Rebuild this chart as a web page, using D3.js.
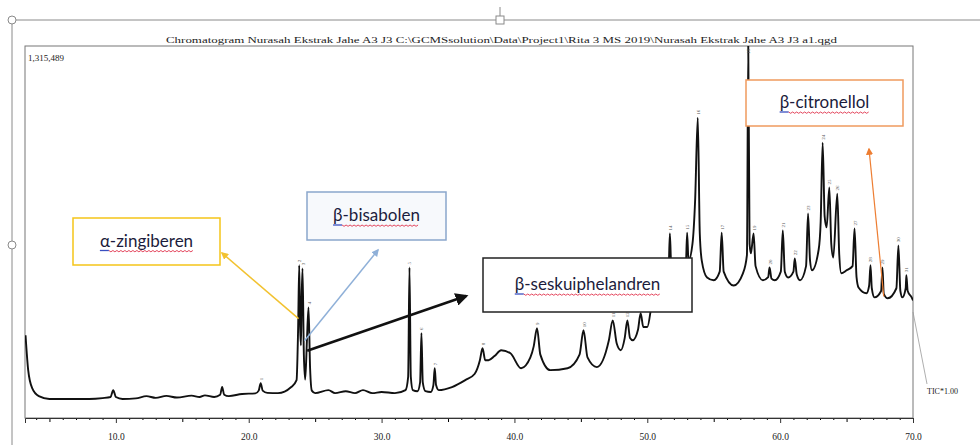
<!DOCTYPE html>
<html>
<head>
<meta charset="utf-8">
<script src="https://cdn.jsdelivr.net/npm/d3@7"></script>
<style>
  body { margin: 0; background: #fff; }
  svg { display: block; }
</style>
</head>
<body>
<svg id="chart" width="980" height="445"></svg>
<script>
// retention time (min) and TIC intensity (x1000 counts)
var traceTime = [3.2, 3.4, 3.7, 4.2, 5.0, 8.0, 9.0, 9.6, 9.8, 10.0, 10.5, 11.5, 12.3, 13.0, 13.8, 14.6, 15.7, 16.3, 16.7, 17.4, 17.85, 18.0, 18.15, 18.5, 19.5, 20.5, 20.75, 20.9, 21.05, 21.4, 22.2, 23.2, 23.6, 23.72, 23.8, 23.87, 23.93, 23.98, 24.05, 24.15, 24.25, 24.38, 24.5, 24.62, 24.75, 25.0, 26.0, 26.5, 27.3, 28.0, 28.6, 29.3, 30.0, 31.0, 31.8, 32.0, 32.1, 32.2, 32.35, 32.7, 32.9, 33.0, 33.1, 33.3, 33.7, 33.9, 34.0, 34.1, 34.3, 35.3, 36.3, 37.0, 37.4, 37.6, 37.8, 38.05, 38.5, 39.0, 39.7, 40.5, 41.2, 41.45, 41.7, 41.95, 42.7, 44.0, 44.9, 45.2, 45.5, 46.2, 47.1, 47.4, 47.7, 48.0, 48.3, 48.5, 48.7, 48.9, 49.3, 49.5, 49.7, 50.0, 50.4, 51.0, 51.4, 51.6, 51.7, 51.8, 52.3, 52.9, 53.0, 53.1, 53.4, 53.6, 53.8, 53.95, 54.1, 54.5, 55.0, 55.45, 55.6, 55.75, 56.5, 57.2, 57.5, 57.6, 57.7, 57.8, 58.0, 58.15, 58.7, 59.1, 59.2, 59.35, 59.6, 60.05, 60.2, 60.35, 60.6, 61.0, 61.1, 61.25, 61.5, 61.95, 62.1, 62.25, 62.4, 62.9, 63.05, 63.2, 63.35, 63.5, 63.7, 63.85, 64.0, 64.3, 64.45, 64.6, 65.0, 65.45, 65.6, 65.75, 65.9, 66.5, 66.7, 66.8, 66.9, 67.1, 67.6, 67.7, 67.8, 68.1, 68.75, 68.9, 69.05, 69.2, 69.45, 69.5, 69.6, 69.9, 70.0];
var traceValue = [270, 144, 79, 50, 40, 40, 43, 47, 72, 47, 40, 42, 50, 44, 51, 45, 52, 47, 53, 47, 55, 83, 55, 50, 58, 60, 70, 97, 70, 62, 61, 83, 108, 300, 523, 300, 234, 400, 512, 200, 110, 250, 371, 150, 70, 61, 72, 61, 68, 61, 72, 61, 65, 61, 72, 120, 515, 120, 72, 68, 100, 278, 100, 68, 65, 90, 151, 90, 72, 83, 108, 130, 180, 223, 180, 180, 195, 216, 205, 151, 190, 230, 296, 200, 144, 151, 200, 288, 190, 155, 250, 324, 240, 216, 260, 324, 260, 252, 290, 350, 300, 300, 396, 432, 480, 500, 638, 520, 469, 520, 641, 540, 600, 757, 1056, 640, 540, 479, 469, 500, 641, 500, 450, 494, 560, 1315.489, 600, 566, 638, 520, 469, 480, 515, 475, 469, 500, 649, 500, 479, 500, 548, 490, 469, 520, 710, 540, 505, 580, 680, 966, 700, 660, 804, 600, 551, 782, 560, 494, 505, 520, 656, 480, 443, 422, 450, 523, 440, 407, 430, 515, 420, 404, 440, 595, 430, 407, 440, 487, 430, 407, 396];

// retention times that carry a peak number
var peakTimes = [20.9, 23.8, 24.05, 24.5, 32.1, 33.0, 34.0, 37.6, 41.7, 45.2, 47.4, 48.5, 49.5, 51.7, 53.0, 53.8, 55.6, 57.6, 58.0, 59.2, 60.2, 61.1, 62.1, 63.2, 63.7, 64.3, 65.6, 66.8, 67.7, 68.9, 69.5];

var tickLabels = [10, 20, 30, 40, 50, 60, 70];
var maxIntensity = "1,315,489";
var titleText = "Chromatogram Nurasah Ekstrak Jahe A3 J3  C:\\GCMSsolution\\Data\\Project1\\Rita 3 MS 2019\\Nurasah Ekstrak Jahe A3 J3 a1.qgd";

// callout boxes and where their arrows start (time, intensity)
var calloutNames = ["α-zingiberen", "β-bisabolen", "β-seskuiphelandren", "β-citronellol"];
var calloutArrowFrom = [[23.75, 330], [24.2, 250], [24.4, 214], [67.8, 410]];

var svg = d3.select("#chart");
var plotL = 25, plotR = 913, plotT = 46, plotB = 418;

var x = d3.scaleLinear().domain([3.16, 70]).range([plotL, plotR]);
var y = d3.scaleLinear().domain([0, 1315.489]).range([410, plotT]);

// word-style selection frame around the picture
var sel = svg.append("g").attr("stroke", "#8a8a8a").attr("fill", "#fff");
sel.append("line").attr("x1", 12).attr("y1", 20).attr("x2", 980).attr("y2", 20);
sel.append("line").attr("x1", 12).attr("y1", 20).attr("x2", 12).attr("y2", 445);
sel.append("line").attr("x1", 500).attr("y1", 7).attr("x2", 500).attr("y2", 17);
sel.append("circle").attr("cx", 12).attr("cy", 20).attr("r", 4);
sel.append("circle").attr("cx", 12).attr("cy", 245).attr("r", 4);
sel.append("rect").attr("x", 496).attr("y", 16).attr("width", 8).attr("height", 8);

svg.append("text").attr("x", 166).attr("y", 43)
  .attr("textLength", 671).attr("lengthAdjust", "spacingAndGlyphs")
  .style("font", "8.5px 'Liberation Serif'").attr("fill", "#222")
  .text(titleText);

var defs = svg.append("defs");
defs.append("clipPath").attr("id", "plotclip")
  .append("rect").attr("x", plotL).attr("y", plotT).attr("width", plotR - plotL).attr("height", plotB - plotT);

svg.append("rect").attr("x", plotL).attr("y", plotT).attr("width", plotR - plotL).attr("height", plotB - plotT)
  .attr("fill", "none").attr("stroke", "#777");

svg.append("text").attr("x", 28).attr("y", 61)
  .style("font", "9px 'Liberation Serif'").attr("fill", "#222").text(maxIntensity);

// axis: minor ticks each minute, mid ticks each 5, labels each 10
var minor = d3.range(4, 71, 1).filter(function(d){ return d % 5 != 0; });
svg.append("g").attr("transform", "translate(0," + plotB + ")")
  .call(d3.axisBottom(x).tickValues(minor).tickSize(2).tickFormat(""))
  .call(function(g){ g.select(".domain").remove(); });
svg.append("g").attr("transform", "translate(0," + plotB + ")")
  .call(d3.axisBottom(x).tickValues([5, 15, 25, 35, 45, 55, 65]).tickSize(4).tickFormat(""))
  .call(function(g){ g.select(".domain").remove(); });
var ax = svg.append("g").attr("transform", "translate(0," + plotB + ")")
  .call(d3.axisBottom(x).tickValues(tickLabels).tickSize(5).tickPadding(10).tickFormat(d3.format(".1f")));
ax.select(".domain").attr("stroke", "#333");
ax.selectAll(".tick line").attr("stroke", "#333");
ax.selectAll("text").style("font", "9.5px 'Liberation Serif'").attr("fill", "#222");

// the TIC trace
var pts = traceTime.map(function(t, i){ return [t, traceValue[i]]; });
var line = d3.line().x(function(d){ return x(d[0]); }).y(function(d){ return y(d[1]); }).curve(d3.curveMonotoneX);
svg.append("g").attr("clip-path", "url(#plotclip)")
  .append("path").attr("d", line(pts)).attr("fill", "none")
  .attr("stroke", "#111").attr("stroke-width", 1.9).attr("stroke-linejoin", "round");

// peak numbers
var peaksG = svg.append("g").attr("clip-path", "url(#plotclip)");
peakTimes.forEach(function(t, i){
  var k = d3.minIndex(traceTime, function(d){ return Math.abs(d - t); });
  var px = x(t), py = Math.max(y(traceValue[k]) - 3, plotT + 8);
  peaksG.append("text").attr("transform", "translate(" + (px + 2) + "," + py + ") rotate(-90)")
    .style("font", "5px 'Liberation Serif'").attr("fill", "#555").text(i + 1);
});

// TIC pointer
svg.append("line").attr("x1", plotR).attr("y1", 312).attr("x2", 927).attr("y2", 384)
  .attr("stroke", "#999").attr("stroke-width", 0.8);
svg.append("text").attr("x", 927).attr("y", 394)
  .style("font", "8px 'Liberation Serif'").attr("fill", "#222").text("TIC*1.00");

// callouts
function marker(id, color, size){
  defs.append("marker").attr("id", id).attr("viewBox", "0 0 10 10").attr("refX", 8).attr("refY", 5)
    .attr("markerWidth", size).attr("markerHeight", size).attr("orient", "auto")
    .append("path").attr("d", "M0,0L10,5L0,10Z").attr("fill", color);
}
var boxes = [
  { x: 73, y: 218, w: 147, h: 47, stroke: "#f5c518", fill: "#fff", arrow: "#f2c230", tip: [222, 253], sw: 1.5, ms: 5 },
  { x: 307, y: 192, w: 139, h: 48, stroke: "#8aa6cc", fill: "#f7f9fc", arrow: "#8fb0d8", tip: [378, 250], sw: 1.5, ms: 5 },
  { x: 483, y: 258, w: 209, h: 54, stroke: "#222", fill: "#fff", arrow: "#111", tip: [466, 296], sw: 2.6, ms: 5 },
  { x: 746, y: 80, w: 157, h: 46, stroke: "#ef9a5e", fill: "#fff", arrow: "#ed7d31", tip: [869, 149], sw: 1.2, ms: 6 }
];
boxes.forEach(function(b, i){
  marker("arr" + i, b.arrow, b.ms);
  var from = calloutArrowFrom[i];
  svg.append("line").attr("x1", x(from[0])).attr("y1", y(from[1])).attr("x2", b.tip[0]).attr("y2", b.tip[1])
    .attr("stroke", b.arrow).attr("stroke-width", b.sw).attr("marker-end", "url(#arr" + i + ")");
  svg.append("rect").attr("x", b.x).attr("y", b.y).attr("width", b.w).attr("height", b.h)
    .attr("fill", b.fill).attr("stroke", b.stroke).attr("stroke-width", 1.5);
  var cx = b.x + b.w / 2, cy = b.y + b.h / 2 + 5;
  var t = svg.append("text").attr("x", cx).attr("y", cy).attr("text-anchor", "middle")
    .style("font", "17px Lato").attr("fill", "#1c1c3c").text(calloutNames[i]);
  var bb = t.node().getBBox();
  var uy = cy + 4;
  // blue underline on the greek letter, red spelling squiggle on the rest
  svg.append("line").attr("x1", bb.x).attr("x2", bb.x + 9).attr("y1", uy).attr("y2", uy)
    .attr("stroke", "#3a4fc0").attr("stroke-width", 1.3);
  var sq = d3.range(bb.x + 9, bb.x + bb.width, 2).map(function(px, j){ return [px, uy + (j % 2 ? 1.3 : 0)]; });
  svg.append("path").attr("d", d3.line()(sq)).attr("fill", "none").attr("stroke", "#e0304a").attr("stroke-width", 0.9);
});
</script>
</body>
</html>
